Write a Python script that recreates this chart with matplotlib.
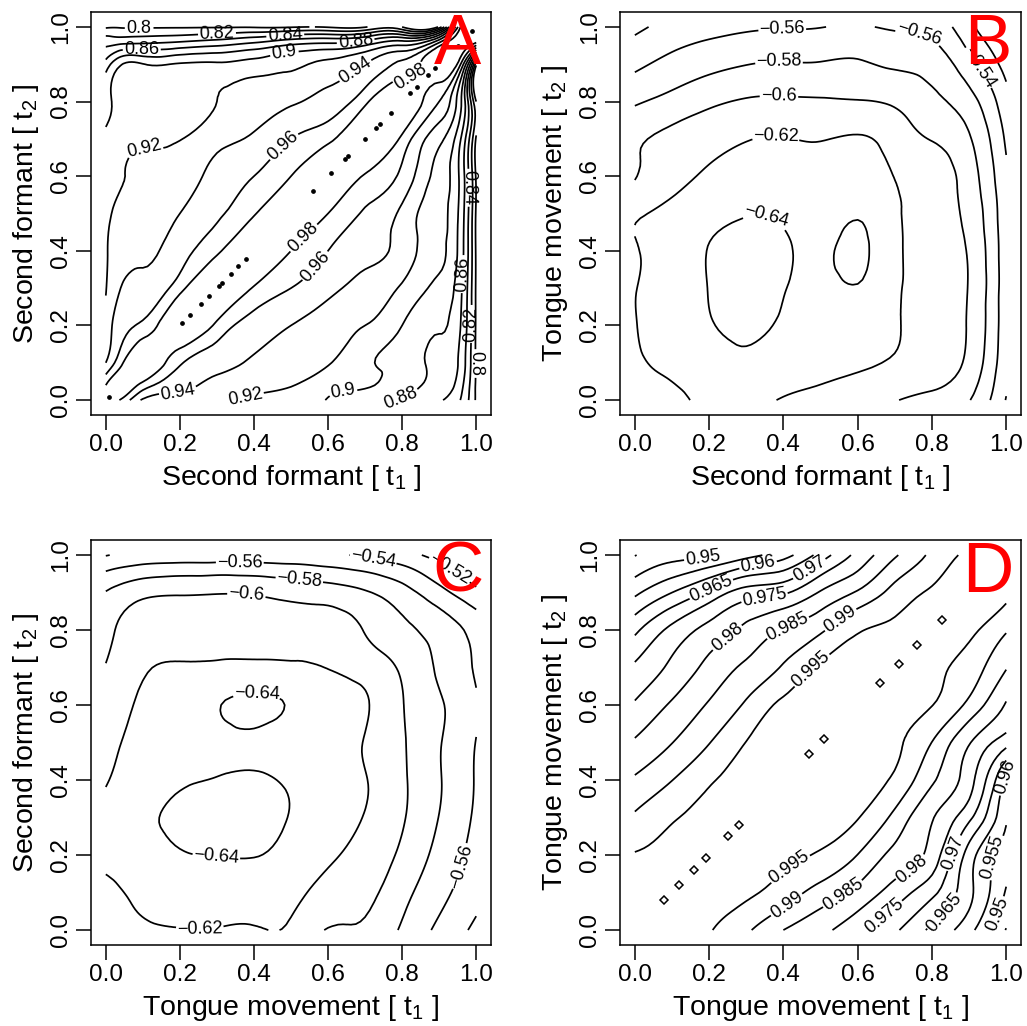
import numpy as np
import matplotlib
matplotlib.use("Agg")
import matplotlib.pyplot as plt
from matplotlib.tri import Triangulation, UniformTriRefiner

plt.rcParams['font.family'] = ['Liberation Sans', 'DejaVu Sans']
plt.rcParams['mathtext.default'] = 'regular'
plt.rcParams['contour.negative_linestyle'] = 'solid'

# ---------------- data ----------------
# Panel A: second formant autocorrelation (non-uniform grid, rows = t2, cols = t1)
grid_A = [0, 0.04, 0.1, 0.2, 0.3, 0.4, 0.5, 0.6, 0.7, 0.8, 0.9, 0.96, 1.0]
corr_A = [
    [1.0, 0.978, 0.937, 0.928, 0.921, 0.917, 0.911, 0.899, 0.886, 0.878, 0.862, 0.838, 0.797],
    [0.98, 1.0, 0.972, 0.947, 0.932, 0.925, 0.921, 0.906, 0.902, 0.889, 0.874, 0.845, 0.797],
    [0.94, 0.974, 1.0, 0.963, 0.947, 0.936, 0.929, 0.922, 0.903, 0.891, 0.877, 0.852, 0.797],
    [0.926, 0.952, 0.965, 1.0, 0.975, 0.952, 0.94, 0.931, 0.92, 0.90, 0.882, 0.858, 0.797],
    [0.919, 0.94, 0.946, 0.973, 1.0, 0.978, 0.96, 0.946, 0.933, 0.917, 0.895, 0.862, 0.797],
    [0.918, 0.931, 0.935, 0.952, 0.976, 1.0, 0.98, 0.96, 0.947, 0.932, 0.905, 0.868, 0.797],
    [0.917, 0.924, 0.928, 0.94, 0.957, 0.978, 1.0, 0.98, 0.958, 0.935, 0.906, 0.87, 0.797],
    [0.913, 0.919, 0.922, 0.931, 0.946, 0.96, 0.98, 1.0, 0.978, 0.955, 0.912, 0.872, 0.797],
    [0.905, 0.912, 0.916, 0.919, 0.934, 0.943, 0.96, 0.975, 1.0, 0.975, 0.925, 0.878, 0.797],
    [0.893, 0.907, 0.91, 0.911, 0.92, 0.931, 0.937, 0.948, 0.975, 1.0, 0.96, 0.90, 0.80],
    [0.868, 0.898, 0.901, 0.902, 0.903, 0.908, 0.916, 0.925, 0.94, 0.965, 1.0, 0.955, 0.805],
    [0.832, 0.833, 0.835, 0.84, 0.847, 0.857, 0.87, 0.875, 0.885, 0.905, 0.955, 1.0, 0.985],
    [0.797, 0.798, 0.798, 0.798, 0.798, 0.798, 0.798, 0.798, 0.798, 0.80, 0.805, 0.985, 1.0],
]
levels_A = [0.8, 0.82, 0.84, 0.86, 0.88, 0.9, 0.92, 0.94, 0.96, 0.98]
ridge_A = [0.009, 0.207, 0.227, 0.258, 0.278, 0.305, 0.313, 0.339, 0.358, 0.379,
           0.559, 0.608, 0.647, 0.655, 0.699, 0.73, 0.74, 0.77, 0.822, 0.84,
           0.871, 0.89, 0.95, 0.99]

# Panel B: cross-correlation formant (t1) vs tongue (t2), rows = t2
grid_B = [0.0, 0.1, 0.2, 0.3, 0.4, 0.5, 0.6, 0.7, 0.8, 0.9, 1.0]
corr_B = [
    [-0.610, -0.615, -0.625, -0.625, -0.619, -0.614, -0.607, -0.601, -0.594, -0.581, -0.539],
    [-0.617, -0.625, -0.632, -0.636, -0.630, -0.627, -0.623, -0.618, -0.612, -0.595, -0.545],
    [-0.619, -0.632, -0.639, -0.643, -0.638, -0.634, -0.630, -0.622, -0.612, -0.598, -0.547],
    [-0.619, -0.633, -0.6403, -0.646, -0.641, -0.636, -0.639, -0.624, -0.611, -0.599, -0.547],
    [-0.618, -0.632, -0.6405, -0.647, -0.643, -0.637, -0.643, -0.625, -0.611, -0.598, -0.547],
    [-0.617, -0.626, -0.634, -0.639, -0.637, -0.633, -0.6385, -0.624, -0.609, -0.594, -0.546],
    [-0.599, -0.613, -0.623, -0.630, -0.631, -0.630, -0.630, -0.6195, -0.610, -0.590, -0.543],
    [-0.598, -0.605, -0.613, -0.619, -0.621, -0.619, -0.622, -0.612, -0.599, -0.582, -0.537],
    [-0.577, -0.587, -0.596, -0.602, -0.603, -0.602, -0.601, -0.597, -0.585, -0.568, -0.527],
    [-0.556, -0.566, -0.574, -0.5795, -0.5815, -0.5815, -0.5825, -0.577, -0.572, -0.547, -0.513],
    [-0.535, -0.547, -0.553, -0.557, -0.5585, -0.5595, -0.5615, -0.558, -0.553, -0.525, -0.500],
]
levels_BC = [-0.64, -0.62, -0.6, -0.58, -0.56, -0.54, -0.52]

# Panel C: cross-correlation tongue (t1) vs formant (t2) = transpose of B
grid_C = grid_B
corr_C = np.array(corr_B).T

# Panel D: tongue movement autocorrelation, rows = t2
grid_D = [0.0, 0.1, 0.2, 0.3, 0.4, 0.5, 0.6, 0.7, 0.8, 0.9, 1.0]
corr_D = [
    [1.0, 0.9976, 0.9953, 0.9909, 0.985, 0.9813, 0.9765, 0.9708, 0.9639, 0.9566, 0.9447],
    [0.9977, 1.0, 0.9979, 0.9958, 0.9926, 0.988, 0.9835, 0.9777, 0.9713, 0.9613, 0.9495],
    [0.9953, 0.9974, 1.0, 0.9982, 0.9961, 0.9944, 0.9899, 0.9837, 0.9779, 0.9627, 0.9525],
    [0.9908, 0.9945, 0.9973, 1.0, 0.9984, 0.9968, 0.9952, 0.9885, 0.9804, 0.9712, 0.9555],
    [0.9857, 0.9899, 0.9944, 0.9975, 1.0, 0.9983, 0.9966, 0.9941, 0.9858, 0.977, 0.9587],
    [0.9806, 0.9849, 0.9898, 0.9951, 0.998, 1.0, 0.998, 0.9958, 0.9899, 0.9804, 0.972],
    [0.9756, 0.9807, 0.9855, 0.9908, 0.996, 0.9978, 1.0, 0.9975, 0.9951, 0.9886, 0.9795],
    [0.9708, 0.9761, 0.9815, 0.986, 0.9906, 0.9957, 0.9976, 1.0, 0.997, 0.9926, 0.9853],
    [0.9638, 0.9714, 0.9767, 0.9812, 0.9853, 0.9892, 0.9945, 0.9967, 1.0, 0.9967, 0.9905],
    [0.9539, 0.960, 0.9663, 0.9723, 0.9743, 0.9805, 0.9856, 0.9917, 0.9961, 1.0, 0.9966],
    [0.9448, 0.948, 0.949, 0.953, 0.958, 0.967, 0.9765, 0.9843, 0.991, 0.9965, 1.0],
]
levels_D = [0.945, 0.95, 0.955, 0.96, 0.965, 0.97, 0.975, 0.98, 0.985, 0.99, 0.995]
ridge_D = [0.079, 0.12, 0.16, 0.191, 0.252, 0.28, 0.47, 0.51, 0.66, 0.71, 0.759, 0.826]

tick_vals = [0.0, 0.2, 0.4, 0.6, 0.8, 1.0]
tick_text = ["0.0", "0.2", "0.4", "0.6", "0.8", "1.0"]

# label placement (style)
lab_A = {0.8: [(0.09, 0.997), (0.995, 0.098)], 0.82: [(0.30, 0.99), (0.995, 0.204)],
         0.84: [(0.484, 0.985), (0.995, 0.569)], 0.86: [(0.096, 0.924), (0.957, 0.338)],
         0.88: [(0.673, 0.976), (0.795, 0.01)], 0.9: [(0.484, 0.916), (0.641, 0.01)],
         0.92: [(0.105, 0.631), (0.376, 0.01)], 0.94: [(0.673, 0.884), (0.195, 0.018)],
         0.96: [(0.484, 0.676), (0.565, 0.36)], 0.98: [(0.822, 0.871), (0.542, 0.427)]}
lab_B = {-0.56: [(0.397, 0.982), (0.757, 0.956)], -0.58: [(0.388, 0.902)],
         -0.6: [(0.388, 0.813)], -0.62: [(0.379, 0.693)], -0.64: [(0.352, 0.484)],
         -0.54: [(0.94, 0.9)]}
lab_C = {-0.56: [(0.362, 0.991), (0.948, 0.173)], -0.54: [(0.722, 0.991)],
         -0.52: [(0.939, 0.978)], -0.58: [(0.524, 0.948)], -0.6: [(0.38, 0.898)],
         -0.64: [(0.407, 0.60), (0.299, 0.213)], -0.62: [(0.254, 0.004)]}
lab_D = {0.95: [(0.184, 0.989), (0.948, 0.053)], 0.955: [(0.961, 0.196)],
         0.96: [(0.332, 0.973), (0.984, 0.413)], 0.965: [(0.207, 0.907), (0.822, 0.058)],
         0.97: [(0.472, 0.96), (0.863, 0.204)], 0.975: [(0.35, 0.88), (0.669, 0.04)],
         0.98: [(0.243, 0.787), (0.732, 0.182)], 0.985: [(0.409, 0.813), (0.562, 0.093)],
         0.99: [(0.548, 0.836), (0.409, 0.067)], 0.995: [(0.463, 0.707), (0.418, 0.164)]}


def fmt(v):
    s = f"{v:.3f}".rstrip('0').rstrip('.')
    return s.replace('-', '\u2212')


def grid_triangulation(grid):
    n = len(grid)
    X, Y = np.meshgrid(grid, grid)
    tris = []
    for j in range(n - 1):
        for i in range(n - 1):
            a = j * n + i
            tris.append([a, a + 1, a + n + 1])
            tris.append([a, a + n + 1, a + n])
    return Triangulation(X.ravel(), Y.ravel(), np.array(tris))


def draw_panel(ax, grid, Z, levels, labels, letter, xlabel, ylabel):
    Z = np.asarray(Z, dtype=float)
    tri = grid_triangulation(grid)
    tri_f, z_f = UniformTriRefiner(tri).refine_field(Z.ravel(), subdiv=3)
    for lv in levels:
        cs = ax.tricontour(tri_f, z_f, levels=[lv], colors='black', linewidths=1.25,
                           linestyles='solid')
        key = None
        for k in labels:
            if abs(k - lv) < 1e-9:
                key = k
        if key is not None and len(cs.allsegs[0]) > 0:
            ax.clabel(cs, inline=True, fmt=fmt, fontsize=13, manual=labels[key],
                      inline_spacing=3)
    ax.set_xlim(-0.04, 1.04)
    ax.set_ylim(-0.04, 1.04)
    ax.set_xticks(tick_vals)
    ax.set_xticklabels(tick_text)
    ax.set_yticks(tick_vals)
    ax.set_yticklabels(tick_text, rotation=90, va='center')
    ax.tick_params(direction='out', length=11, width=1.1, labelsize=17.5, pad=2.5)
    for sp in ax.spines.values():
        sp.set_linewidth(1.1)
    ax.set_xlabel(xlabel, fontsize=20.5, labelpad=5)
    ax.set_ylabel(ylabel, fontsize=20.5, labelpad=7)
    ax.text(0.95, 0.95, letter, color='#ff0000', fontsize=51, ha='center', va='center',
            zorder=10)


fig = plt.figure(figsize=(10.27, 10.26), dpi=100)
axA = fig.add_axes([0.0886, 0.5955, 0.3895, 0.3928])
axB = fig.add_axes([0.6037, 0.5955, 0.3905, 0.3928])
axC = fig.add_axes([0.0886, 0.0789, 0.3895, 0.3947])
axD = fig.add_axes([0.6037, 0.0789, 0.3905, 0.3947])

draw_panel(axA, grid_A, corr_A, levels_A, lab_A, "A",
           "Second formant [ t$_1$ ]", "Second formant [ t$_2$ ]")
axA.plot(ridge_A, ridge_A, 'o', ms=2.4, color='black', ls='none')

draw_panel(axB, grid_B, corr_B, levels_BC, lab_B, "B",
           "Second formant [ t$_1$ ]", "Tongue movement [ t$_2$ ]")

draw_panel(axC, grid_C, corr_C, levels_BC, lab_C, "C",
           "Tongue movement [ t$_1$ ]", "Second formant [ t$_2$ ]")

draw_panel(axD, grid_D, corr_D, levels_D, lab_D, "D",
           "Tongue movement [ t$_1$ ]", "Tongue movement [ t$_2$ ]")
axD.plot(ridge_D, ridge_D, 'D', ms=4.5, mfc='none', mec='black', mew=1.1, ls='none')

fig.savefig("out.png", dpi=100)
